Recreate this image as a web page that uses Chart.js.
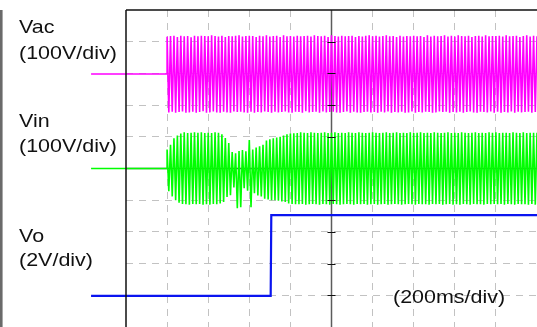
<!DOCTYPE html>
<html>
<head>
<meta charset="utf-8">
<script src="https://cdn.jsdelivr.net/npm/chart.js@4"></script>
<style>
  html, body { margin: 0; padding: 0; background: #fff; }
  #scope { display: block; }
</style>
</head>
<body>
<canvas id="scope" width="537" height="327"></canvas>
<script>
// channel text
const channelNames = ['Vac', 'Vin', 'Vo'];
const channelScales = ['(100V/div)', '(100V/div)', '(2V/div)'];
const timeScaleLabel = '(200ms/div)';

// vertical setup of each channel (divisions counted from screen bottom)
const voltsPerDiv = [100, 100, 2];
const groundLevels = [7.98, 5.0, 0.98];
const msPerDiv = 200;

const markerStart = -170;      // ms, ground markers left of the screen
const acStart = 200;           // ms, line switched on
const peakStep = 1000 / 120;   // ms between successive peaks of the 60 Hz line

// Vac peaks (V), one per half cycle
const vacPeaks = [
  118,-121,120,-119,121,-122,117,-120,121,-118,119,-122,120,-121,116,-119,121,-122,119,-120,121,-117,120,-122,
  119,-121,122,-118,120,-121,118,-122,121,-119,117,-121,120,-122,119,-118,121,-120,122,-119,118,-121,120,-122,
  121,-119,120,-122,117,-120,121,-121,119,-118,122,-120,118,-122,120,-119,121,-121,117,-120,122,-118,119,-121,
  120,-122,118,-119,121,-120,119,-122,120,-117,121,-121,118,-120,122,-119,120,-122,119,-118,121,-121,117,-120,
  122,-119,120,-121,118,-122,121,-120,119,-118,120,-122,121,-119,117,-121,120,-122,118,-120,121,-119,122,-121,
  119,-120,121,-122,118,-119,120,-121,122,-118,119,-122,120,-120,117,-121,121,-119,118,-122,120,-121,119,-118,
  121,-122,119,-120,120,-121,117,-119,122,-120,118,-122,121,-121,119,-118,120,-120,122,-119,118,-122,121,-120,
  118,-121,122,-119,120,-122,119,-120,121,-118,117,-121,120,-122,121,-119,118,-120,122,-121,119,-118,120,-122,
  120,-119,121,-122,118,-120,122,-121,119,-118,120,-122,121,-119,117,-121,120,-120,122,-119,118,-122,121,-120,
  119
];

// Vin peaks (V): start-up transient, dip, then steady state
const vinPeaks = [
  60,-72,75,-88,95,-100,104,-108,110,-112,114,-113,112,-114,113,-112,114,-113,113,-112,114,-114,112,-113,
  113,-114,112,-112,114,-113,113,-110,108,-106,96,-90,80,-84,52,-60,48,-125,55,-122,58,-62,54,-70,
  90,-122,60,-78,66,-85,70,-88,75,-95,88,-98,92,-100,95,-100,98,-102,100,-104,104,-106,108,-110,
  110,-112,111,-113,112,-113,114,-112,113,-114,112,-113,114,-112,113,-113,112,-114,113,-112,114,-113,112,-114,
  113,-112,114,-113,112,-114,113,-113,112,-112,114,-113,113,-114,112,-112,114,-113,113,-112,112,-114,113,-113,
  114,-112,113,-114,112,-113,113,-112,114,-114,112,-113,113,-112,114,-113,112,-114,113,-113,112,-112,114,-113,
  112,-114,113,-112,114,-113,112,-113,113,-114,112,-112,114,-113,113,-112,112,-114,113,-113,114,-112,112,-114,
  113,-113,112,-114,114,-112,113,-113,112,-114,113,-112,114,-113,112,-113,113,-114,112,-112,114,-113,113,-112,
  114,-113,112,-112,113,-114,113,-112,112,-113,114,-114,113,-112,112,-113,114,-113,112,-114,113,-112,113,-114,
  113
];

// Vo step (ms, V)
const voTimes = [markerStart, 704, 707, 2000];
const voVolts = [0, 0, 5.1, 5.1];

function toDiv(ch, v) {
  return groundLevels[ch] + v / voltsPerDiv[ch];
}

function acTrace(peaks, ch) {
  const pts = [{x: markerStart, y: toDiv(ch, 0)}, {x: acStart, y: toDiv(ch, 0)}];
  peaks.forEach((v, i) => pts.push({x: acStart + i * peakStep, y: toDiv(ch, v)}));
  return pts;
}

const voData = voTimes.map((t, i) => ({x: t, y: toDiv(2, voVolts[i])}));

const gridGray = '#c2c2c2';

const scopePlugin = {
  id: 'scopeScreen',
  beforeDatasetsDraw(chart) {
    const {ctx, chartArea: a, scales: {x, y}} = chart;
    const cx = x.getPixelForValue(5 * msPerDiv);
    const cy = y.getPixelForValue(5);
    ctx.save();
    ctx.strokeStyle = '#5c5c5c';
    ctx.lineWidth = 1.5;
    ctx.beginPath();
    ctx.moveTo(cx, a.top); ctx.lineTo(cx, a.bottom);
    ctx.moveTo(a.left, cy); ctx.lineTo(a.right, cy);
    ctx.stroke();
    ctx.restore();
  },
  afterDatasetsDraw(chart) {
    const {ctx, chartArea: a, scales: {x, y}} = chart;
    const cx = x.getPixelForValue(5 * msPerDiv);
    ctx.save();
    // ticks on the centre line
    ctx.strokeStyle = '#111';
    ctx.lineWidth = 1.2;
    ctx.beginPath();
    for (let d = 1; d < 10; d++) {
      if (d === 5) continue;
      const py = Math.round(y.getPixelForValue(d)) + 0.5;
      ctx.moveTo(cx - 4, py); ctx.lineTo(cx + 4, py);
    }
    ctx.stroke();
    // screen frame (top and left)
    ctx.strokeStyle = '#111';
    ctx.lineWidth = 1.5;
    ctx.beginPath();
    ctx.moveTo(a.left, a.top); ctx.lineTo(a.right, a.top);
    ctx.moveTo(a.left, a.top); ctx.lineTo(a.left, a.bottom);
    ctx.stroke();
    // left edge of the capture
    ctx.fillStyle = '#6a6a6a';
    ctx.fillRect(0, a.top, 2, chart.height - a.top);
    ctx.fillStyle = '#a8a8a8';
    ctx.fillRect(2, a.top, 1, chart.height - a.top);
    ctx.restore();
  },
  afterDraw(chart) {
    const {ctx} = chart;
    const lines = [
      [channelNames[0], 19, 33], [channelScales[0], 19, 59],
      [channelNames[1], 19, 127], [channelScales[1], 19, 152],
      [channelNames[2], 19, 242], [channelScales[2], 19, 266],
      [timeScaleLabel, 393, 303]
    ];
    ctx.save();
    ctx.font = '19px "Liberation Sans", Arial, sans-serif';
    ctx.fillStyle = '#111';
    ctx.textBaseline = 'alphabetic';
    lines.forEach(([txt, tx, ty]) => {
      ctx.setTransform(1.13, 0, 0, 1, tx, ty);
      ctx.fillText(txt, 0, 0);
    });
    ctx.restore();
  }
};

function gridColor(edges) {
  return (c) => edges.includes(c.tick.value) ? 'rgba(0,0,0,0)' : gridGray;
}

new Chart(document.getElementById('scope'), {
  type: 'line',
  data: {
    datasets: [
      {data: acTrace(vacPeaks, 0), borderColor: '#ff00ff', borderWidth: 1.6},
      {data: acTrace(vinPeaks, 1), borderColor: '#00ff00', borderWidth: 1.6},
      {data: voData, borderColor: '#0a14f0', borderWidth: 2.2}
    ].map(d => Object.assign(d, {pointRadius: 0, tension: 0, clip: false, fill: false}))
  },
  options: {
    responsive: false,
    animation: false,
    devicePixelRatio: 1,
    layout: {padding: {left: 126, top: 10, right: 0, bottom: 0}},
    plugins: {legend: {display: false}, tooltip: {enabled: false}},
    scales: {
      x: {
        type: 'linear', min: 0, max: 10 * msPerDiv,
        ticks: {display: false, stepSize: msPerDiv},
        grid: {color: gridColor([0, 5 * msPerDiv, 10 * msPerDiv]), lineWidth: 1, drawTicks: false},
        border: {display: false, dash: [7, 6]}
      },
      y: {
        type: 'linear', min: 0, max: 10,
        ticks: {display: false, stepSize: 1},
        grid: {color: gridColor([0, 5, 10]), lineWidth: 1, drawTicks: false},
        border: {display: false, dash: [7, 6]}
      }
    }
  },
  plugins: [scopePlugin]
});
</script>
</body>
</html>
